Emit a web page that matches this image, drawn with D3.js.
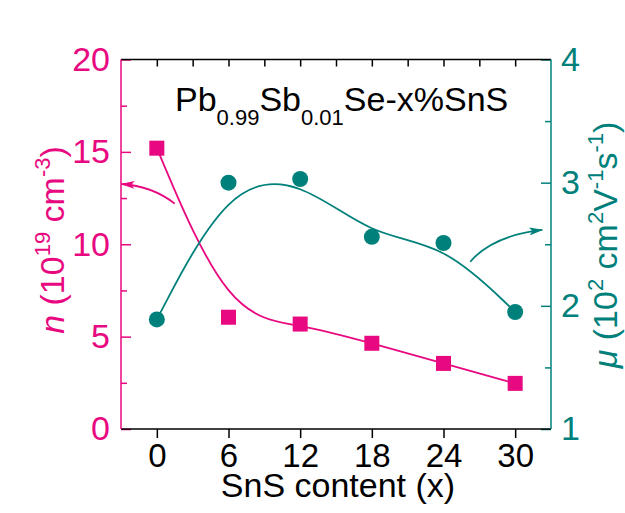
<!DOCTYPE html>
<html>
<head>
<meta charset="utf-8">
<script src="https://cdn.jsdelivr.net/npm/d3@7"></script>
<style>
  html, body { margin: 0; padding: 0; background: #ffffff; }
  svg { display: block; }
  text { font-family: "Liberation Sans", Arial, sans-serif; }
</style>
</head>
<body>
<svg id="chart" width="625" height="513"></svg>
<script>
// ---- data ----
const sns = [0, 6, 12, 18, 24, 30];                 // SnS content (x)
const carrierN = [15.2, 6.05, 5.68, 4.64, 3.55, 2.47]; // n (10^19 cm^-3)
const mobility = [1.89, 3.0, 3.03, 2.56, 2.51, 1.95];  // mu (10^2 cm^2 V^-1 s^-1)
const xTicks = [0, 6, 12, 18, 24, 30];
const xTopTicks = [0, 3, 6, 9, 12, 15, 18, 21, 24, 27, 30];
const nMajor = [0, 5, 10, 15, 20];
const nMinor = [2.5, 7.5, 12.5, 17.5];
const muMajor = [1, 2, 3, 4];
const muMinor = [1.5, 2.5, 3.5];
// annotation arrows (start, control, tip) in data units
const arrowN = [[1.5, 12.2], [-0.4, 13.15], [-2.96, 13.26]];
const arrowMu = [[26.24, 2.358], [28.1, 2.57], [32.27, 2.616]];

const PINK = "#E8087F";
const TEAL = "#00807B";

const svg = d3.select("#chart");
const L = 121, R = 551, T = 59.5, B = 429;

const x = d3.scaleLinear().domain([-3, 33]).range([L, R]);
const yN = d3.scaleLinear().domain([0, 20]).range([B, T]);
const yMu = d3.scaleLinear().domain([1, 4]).range([B, T]);

// defs: arrowheads
const defs = svg.append("defs");
function marker(id, color) {
  defs.append("marker").attr("id", id)
    .attr("viewBox", "0 0 14 8").attr("refX", 13).attr("refY", 4)
    .attr("markerWidth", 14).attr("markerHeight", 8)
    .attr("markerUnits", "userSpaceOnUse")
    .attr("orient", "auto")
    .append("path").attr("d", "M0,0 L14,4 L0,8 L3,4 Z").attr("fill", color);
}
marker("ahPink", PINK);
marker("ahTeal", TEAL);

// ---- axes ----
function styleAxis(g, color, size) {
  g.select(".domain").remove();
  g.selectAll(".tick line").attr("stroke", color).attr("stroke-width", 1.5);
  g.selectAll(".tick text").attr("fill", color)
    .style("font-family", '"Liberation Sans", Arial, sans-serif')
    .style("font-size", (size || 34) + "px");
}
const fmt = d3.format("d");

// bottom
const gB = svg.append("g").attr("transform", `translate(0,${B})`)
  .call(d3.axisBottom(x).tickValues(xTicks).tickFormat(fmt).tickSize(9).tickSizeOuter(0).tickPadding(6));
styleAxis(gB, "#000", 33);
// top (inward ticks, no labels)
const gT = svg.append("g").attr("transform", `translate(0,${T})`)
  .call(d3.axisTop(x).tickValues(xTopTicks).tickSize(-7).tickSizeOuter(0).tickFormat(""));
styleAxis(gT, "#000");
// left
const gL = svg.append("g").attr("transform", `translate(${L},0)`)
  .call(d3.axisLeft(yN).tickValues(nMajor).tickFormat(fmt).tickSize(-10).tickSizeOuter(0).tickPadding(11));
styleAxis(gL, PINK);
const gLm = svg.append("g").attr("transform", `translate(${L},0)`)
  .call(d3.axisLeft(yN).tickValues(nMinor).tickSize(-6).tickSizeOuter(0).tickFormat(""));
styleAxis(gLm, PINK);
// right
const gR = svg.append("g").attr("transform", `translate(${R},0)`)
  .call(d3.axisRight(yMu).tickValues(muMajor).tickFormat(fmt).tickSize(-10).tickSizeOuter(0).tickPadding(10));
styleAxis(gR, TEAL);
const gRm = svg.append("g").attr("transform", `translate(${R},0)`)
  .call(d3.axisRight(yMu).tickValues(muMinor).tickSize(-6).tickSizeOuter(0).tickFormat(""));
styleAxis(gRm, TEAL);

// frame lines
svg.append("line").attr("x1", L).attr("x2", R).attr("y1", T).attr("y2", T).attr("stroke", "#000").attr("stroke-width", 1.5);
svg.append("line").attr("x1", L).attr("x2", R).attr("y1", B).attr("y2", B).attr("stroke", "#000").attr("stroke-width", 1.5);
svg.append("line").attr("x1", L).attr("x2", L).attr("y1", T).attr("y2", B).attr("stroke", PINK).attr("stroke-width", 1.5);
svg.append("line").attr("x1", R).attr("x2", R).attr("y1", T).attr("y2", B).attr("stroke", TEAL).attr("stroke-width", 1.5);

// ---- curves (B-spline through data as control points) ----
const nData = sns.map((s, i) => [s, carrierN[i]]);
const muData = sns.map((s, i) => [s, mobility[i]]);

svg.append("path").datum(nData)
  .attr("fill", "none").attr("stroke", PINK).attr("stroke-width", 1.8)
  .attr("d", d3.line().x(d => x(d[0])).y(d => yN(d[1])).curve(d3.curveBasis));
svg.append("path").datum(muData)
  .attr("fill", "none").attr("stroke", TEAL).attr("stroke-width", 1.8)
  .attr("d", d3.line().x(d => x(d[0])).y(d => yMu(d[1])).curve(d3.curveBasis));

// markers
svg.append("g").selectAll("rect").data(nData).join("rect")
  .attr("x", d => x(d[0]) - 7.5).attr("y", d => yN(d[1]) - 7.5)
  .attr("width", 15).attr("height", 15).attr("fill", PINK);
svg.append("g").selectAll("circle").data(muData).join("circle")
  .attr("cx", d => x(d[0])).attr("cy", d => yMu(d[1])).attr("r", 8).attr("fill", TEAL);

// ---- arrows ----
function arrowPath(pts, ys) {
  const p = d3.path();
  p.moveTo(x(pts[0][0]), ys(pts[0][1]));
  p.quadraticCurveTo(x(pts[1][0]), ys(pts[1][1]), x(pts[2][0]), ys(pts[2][1]));
  return p.toString();
}
svg.append("path").attr("d", arrowPath(arrowN, yN)).attr("fill", "none")
  .attr("stroke", PINK).attr("stroke-width", 1.8).attr("marker-end", "url(#ahPink)");
svg.append("path").attr("d", arrowPath(arrowMu, yMu)).attr("fill", "none")
  .attr("stroke", TEAL).attr("stroke-width", 1.8).attr("marker-end", "url(#ahTeal)");

// ---- title inside plot ----
const title = svg.append("text").attr("x", 175).attr("y", 111)
  .attr("fill", "#000").style("font-size", "34px");
title.append("tspan").text("Pb");
title.append("tspan").attr("dy", 14).style("font-size", "22px").text("0.99");
title.append("tspan").attr("dy", -14).text("Sb");
title.append("tspan").attr("dy", 14).style("font-size", "22px").text("0.01");
title.append("tspan").attr("dy", -14).text("Se-x%SnS");

// ---- axis titles ----
svg.append("text").attr("x", 338).attr("y", 497).attr("text-anchor", "middle")
  .attr("fill", "#000").style("font-size", "34px").text("SnS content (x)");

const yl = svg.append("text").attr("transform", `translate(64,240) rotate(-90)`)
  .attr("text-anchor", "middle").attr("fill", PINK).style("font-size", "34px");
yl.append("tspan").style("font-style", "italic").text("n");
yl.append("tspan").text(" (10");
yl.append("tspan").attr("dy", -14).style("font-size", "22px").text("19");
yl.append("tspan").attr("dy", 14).text(" cm");
yl.append("tspan").attr("dy", -14).style("font-size", "22px").text("-3");
yl.append("tspan").attr("dy", 14).text(")");

const yr = svg.append("text").attr("transform", `translate(617,245) rotate(-90)`)
  .attr("text-anchor", "middle").attr("fill", TEAL).style("font-size", "34px");
yr.append("tspan").style("font-style", "italic").text("\u03BC");
yr.append("tspan").text(" (10");
yr.append("tspan").attr("dy", -14).style("font-size", "22px").text("2");
yr.append("tspan").attr("dy", 14).text(" cm");
yr.append("tspan").attr("dy", -14).style("font-size", "22px").text("2");
yr.append("tspan").attr("dy", 14).text("V");
yr.append("tspan").attr("dy", -14).style("font-size", "22px").text("-1");
yr.append("tspan").attr("dy", 14).text("s");
yr.append("tspan").attr("dy", -14).style("font-size", "22px").text("-1");
yr.append("tspan").attr("dy", 14).text(")");
</script>
</body>
</html>
